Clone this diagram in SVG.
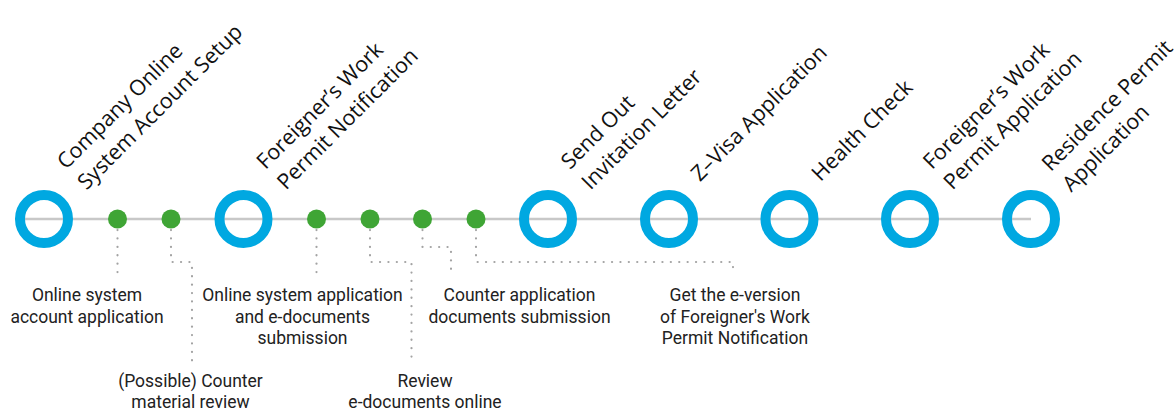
<svg xmlns="http://www.w3.org/2000/svg" width="1174" height="412" viewBox="0 0 1174 412">
<style>
.ring{fill:none;stroke:#00a8e1;stroke-width:10}
.dot{fill:#3fa535}
.axis{stroke:#c8c8c8;stroke-width:2.5;fill:none}
.lead{fill:none;stroke:#a3a3a3;stroke-width:2.2;stroke-linecap:round;stroke-dasharray:0.1 8.3}
.top{font-family:"Open Sans","Noto Sans",sans-serif;font-size:21.5px;font-weight:400;fill:#111}
.bot{font-family:Roboto,"Noto Sans",sans-serif;font-size:17.5px;fill:#222;text-anchor:middle}
</style>
<g id="connectors">
<line class="axis" x1="15" y1="219" x2="1031" y2="219"/>
<path class="lead" d="M117.5,230 V275"/>
<path class="lead" d="M171,230 V262 H192 V362"/>
<path class="lead" d="M316.5,230 V275"/>
<path class="lead" d="M370,230 V262 H411.5 V362"/>
<path class="lead" d="M422.5,230 V247 H451 V275"/>
<path class="lead" d="M476,230 V262 H733 V275"/>
</g>
<g id="n1"><circle class="ring" cx="44" cy="219" r="24"/>
<g transform="translate(44,219) rotate(-45)"><text class="top" x="50" y="-19">Company Online</text><text class="top" x="50" y="10">System Account Setup</text></g></g>
<g id="n2"><circle class="ring" cx="243.5" cy="219" r="24"/>
<g transform="translate(243.5,219) rotate(-45)"><text class="top" x="50" y="-19">Foreigner’s Work</text><text class="top" x="50" y="10">Permit Notification</text></g></g>
<g id="n3"><circle class="ring" cx="548" cy="219" r="24"/>
<g transform="translate(548,219) rotate(-45)"><text class="top" x="50" y="-19">Send Out</text><text class="top" x="50" y="10">Invitation Letter</text></g></g>
<g id="n4"><circle class="ring" cx="669" cy="219" r="24"/>
<g transform="translate(669,219) rotate(-45)"><text class="top" x="48" y="-4">Z–Visa Application</text></g></g>
<g id="n5"><circle class="ring" cx="789.5" cy="219" r="24"/>
<g transform="translate(789.5,219) rotate(-45)"><text class="top" x="48" y="-4">Health Check</text></g></g>
<g id="n6"><circle class="ring" cx="910" cy="219" r="24"/>
<g transform="translate(910,219) rotate(-45)"><text class="top" x="50" y="-19">Foreigner’s Work</text><text class="top" x="50" y="10">Permit Application</text></g></g>
<g id="n7"><circle class="ring" cx="1031" cy="219" r="24"/>
<g transform="translate(1031,219) rotate(-45)"><text class="top" x="47" y="-19">Residence Permit</text><text class="top" x="47" y="10">Application</text></g></g>
<g id="s1"><circle class="dot" cx="117.5" cy="219" r="9.5"/>
<text class="bot" x="87" y="301">Online system</text><text class="bot" x="87" y="322.5">account application</text></g>
<g id="s2"><circle class="dot" cx="171" cy="219" r="9.5"/>
<text class="bot" x="190.5" y="387">(Possible) Counter</text><text class="bot" x="190.5" y="408">material review</text></g>
<g id="s3"><circle class="dot" cx="316.5" cy="219" r="9.5"/>
<text class="bot" x="302.5" y="301">Online system application</text><text class="bot" x="302.5" y="322.5">and e-documents</text><text class="bot" x="302.5" y="344">submission</text></g>
<g id="s4"><circle class="dot" cx="370" cy="219" r="9.5"/>
<text class="bot" x="425" y="387">Review</text><text class="bot" x="425" y="408">e-documents online</text></g>
<g id="s5"><circle class="dot" cx="422.5" cy="219" r="9.5"/>
<text class="bot" x="519.5" y="301">Counter application</text><text class="bot" x="519.5" y="322.5">documents submission</text></g>
<g id="s6"><circle class="dot" cx="476" cy="219" r="9.5"/>
<text class="bot" x="735" y="301">Get the e-version</text><text class="bot" x="735" y="322.5">of Foreigner's Work</text><text class="bot" x="735" y="344">Permit Notification</text></g>
</svg>
